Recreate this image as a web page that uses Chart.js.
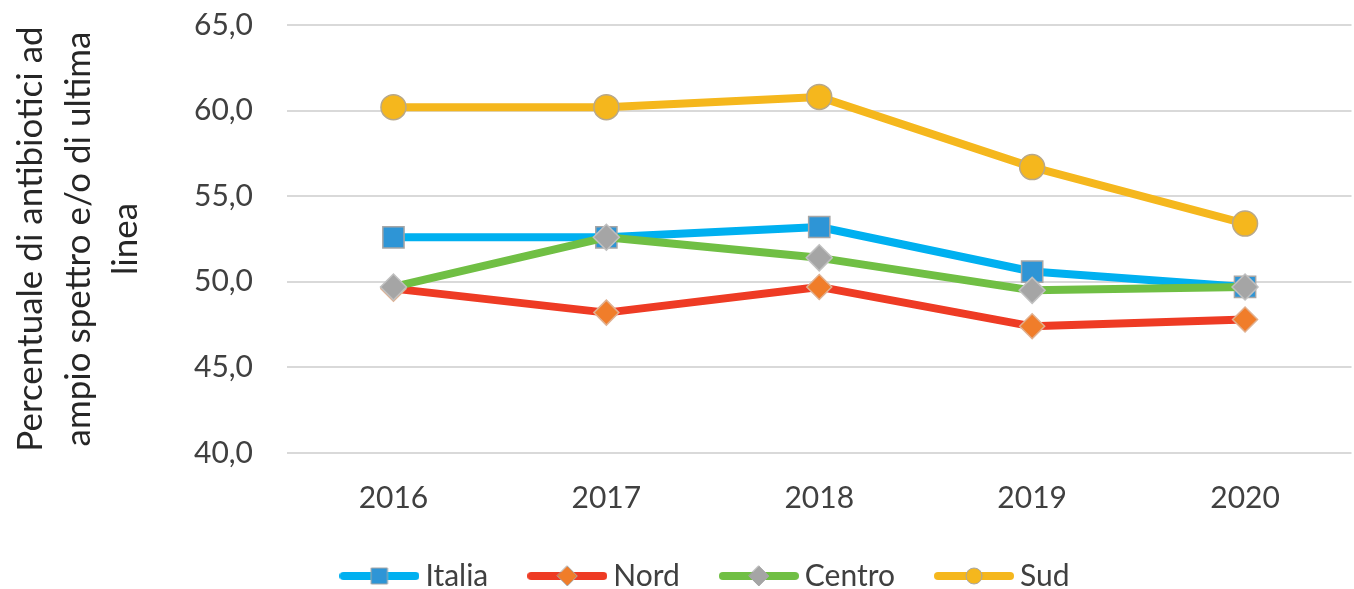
<!DOCTYPE html>
<html>
<head>
<meta charset="utf-8">
<script src="https://cdn.jsdelivr.net/npm/chart.js@4.4.1/dist/chart.umd.min.js"></script>
<style>
  html, body { margin: 0; padding: 0; background: #fff; overflow: hidden; }
</style>
</head>
<body>
<canvas id="chart" width="1368" height="601"></canvas>
<script>
const years = ['2016', '2017', '2018', '2019', '2020'];
const italia = [52.6, 52.6, 53.2, 50.6, 49.7];
const nord = [49.6, 48.2, 49.7, 47.4, 47.8];
const centro = [49.7, 52.6, 51.4, 49.5, 49.7];
const sud = [60.2, 60.2, 60.8, 56.7, 53.4];
const yTicks = [40, 45, 50, 55, 60, 65];
const yTitle = ['Percentuale di antibiotici ad', 'ampio spettro e/o di ultima', 'linea'];

const FONT = 'Lato';
const textColor = '#404040';

// legend icon: short line with the marker in the middle
function legendIcon(lineColor, markerColor, shape) {
  const c = document.createElement('canvas');
  c.width = 80; c.height = 26;
  const g = c.getContext('2d');
  g.strokeStyle = lineColor; g.lineWidth = 8; g.lineCap = 'round';
  g.beginPath(); g.moveTo(4, 13); g.lineTo(76, 13); g.stroke();
  g.fillStyle = markerColor; g.strokeStyle = '#a6a6a6'; g.lineWidth = 1;
  g.beginPath();
  if (shape === 'rect') g.rect(32, 5, 16, 16);
  else if (shape === 'diamond') { g.moveTo(40, 3); g.lineTo(50, 13); g.lineTo(40, 23); g.lineTo(30, 13); g.closePath(); }
  else g.arc(40, 13, 8, 0, Math.PI * 2);
  g.fill(); g.stroke();
  return c;
}

const icons = [
  legendIcon('#00b0f0', '#2e95d6', 'rect'),
  legendIcon('#ee3b24', '#f07d2a', 'diamond'),
  legendIcon('#70bf44', '#a5a5a5', 'diamond'),
  legendIcon('#f5b71d', '#f5b71d', 'circle')
];

const padLeft = 50;

new Chart(document.getElementById('chart'), {
  type: 'line',
  data: {
    labels: years,
    datasets: [
      { label: 'Italia', data: italia, borderColor: '#00b0f0', borderWidth: 8,
        pointStyle: 'rect', pointRadius: 15, pointBackgroundColor: '#2e95d6',
        pointBorderColor: '#a6a6a6', pointBorderWidth: 1.5, order: 3 },
      { label: 'Nord', data: nord, borderColor: '#ee3b24', borderWidth: 8,
        pointStyle: 'rectRot', pointRadius: 12.5, pointBackgroundColor: '#f07d2a',
        pointBorderColor: '#e0b090', pointBorderWidth: 1.5, order: 2 },
      { label: 'Centro', data: centro, borderColor: '#70bf44', borderWidth: 8,
        pointStyle: 'rectRot', pointRadius: 13, pointBackgroundColor: '#a5a5a5',
        pointBorderColor: '#c0c0c0', pointBorderWidth: 1.5, order: 1 },
      { label: 'Sud', data: sud, borderColor: '#f5b71d', borderWidth: 8,
        pointStyle: 'circle', pointRadius: 12.5, pointBackgroundColor: '#f5b71d',
        pointBorderColor: '#b8a88a', pointBorderWidth: 1.5, order: 0 }
    ]
  },
  options: {
    responsive: false,
    animation: false,
    events: [],
    layout: { padding: { left: padLeft, right: 0, top: 25, bottom: 0 } },
    elements: { line: { tension: 0, borderJoinStyle: 'round', borderCapStyle: 'round' } },
    scales: {
      x: {
        offset: true,
        grid: { display: false, drawTicks: false },
        border: { display: false },
        ticks: { padding: 27, font: { family: FONT, size: 30 }, color: textColor },
        afterFit: s => { s.height = 60; }
      },
      y: {
        min: 40,
        max: 65,
        afterBuildTicks: s => { s.ticks = yTicks.map(v => ({ value: v })); },
        ticks: {
          padding: 34,
          font: { family: FONT, size: 30 },
          color: textColor,
          callback: v => v.toFixed(1).replace('.', ',')
        },
        grid: { color: '#d9d9d9', lineWidth: 2, drawTicks: false },
        border: { display: false },
        title: {
          display: true,
          text: yTitle,
          color: '#262626',
          font: { family: FONT, size: 35, lineHeight: 1.36 },
          padding: { top: 31 - padLeft - 24, bottom: 0 }
        },
        afterFit: s => {
          s.width = 287 - padLeft;
          s.paddingTop = 18;
          s.paddingBottom = 18;
        }
      }
    },
    plugins: {
      tooltip: { enabled: false },
      legend: {
        position: 'bottom',
        labels: {
          usePointStyle: true,
          pointStyleWidth: 62,
          padding: 48,
          color: textColor,
          font: { family: FONT, size: 30 },
          sort: (a, b) => a.datasetIndex - b.datasetIndex,
          generateLabels: chart => Chart.defaults.plugins.legend.labels.generateLabels(chart)
            .map(l => Object.assign(l, { pointStyle: icons[l.datasetIndex] }))
        }
      }
    }
  }
});
</script>
</body>
</html>
